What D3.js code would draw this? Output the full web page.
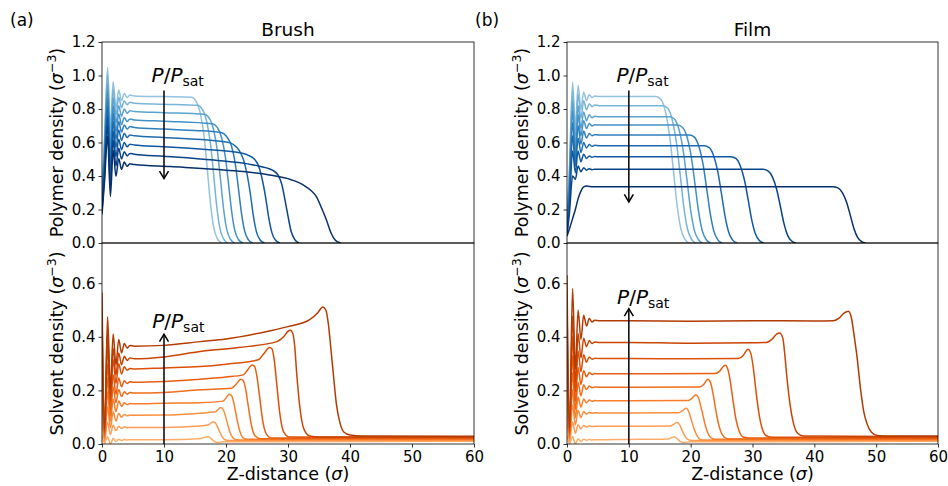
<!DOCTYPE html>
<html><head><meta charset="utf-8">
<script src="https://cdn.jsdelivr.net/npm/d3@7"></script>
<style>
body{margin:0;background:#fff}
text{font-family:"DejaVu Sans",sans-serif;fill:#000}
</style>
</head><body>
<svg id="chart" width="948" height="486"></svg>
<script>
// Density profiles versus distance from the substrate, one curve per P/Psat.
// Index 0 = lowest P/Psat (lightest colour), index 8 = highest.

// shared sampling of the layered region next to the wall
const zWall = [0, 0.4, 0.9, 1.35, 1.8, 2.25, 2.7, 3.15, 3.6, 4.05, 4.5, 5.2];

// ---- Brush: polymer density ----
const brushPolymerWall = [
  [0.28,0.62,1.048,0.688,0.963,0.808,0.913,0.850,0.893,0.868,0.883,0.878],
  [0.27,0.59,1.005,0.645,0.920,0.765,0.870,0.807,0.850,0.825,0.840,0.835],
  [0.26,0.56,0.955,0.595,0.870,0.715,0.820,0.757,0.800,0.775,0.790,0.785],
  [0.245,0.53,0.905,0.545,0.820,0.665,0.770,0.707,0.750,0.725,0.740,0.735],
  [0.235,0.50,0.860,0.500,0.775,0.620,0.725,0.662,0.705,0.680,0.695,0.690],
  [0.22,0.47,0.810,0.450,0.725,0.570,0.675,0.612,0.655,0.630,0.645,0.640],
  [0.205,0.44,0.755,0.395,0.670,0.515,0.620,0.557,0.600,0.575,0.590,0.585],
  [0.19,0.40,0.700,0.340,0.615,0.460,0.565,0.502,0.545,0.520,0.535,0.530],
  [0.17,0.36,0.638,0.278,0.553,0.398,0.503,0.440,0.483,0.458,0.473,0.468]
];
const brushPolymerBulk = [
  [[10,0.874],[14.4,0.870],[15.2,0.844],[15.9,0.766],[16.5,0.626],[17.0,0.435],[17.5,0.235],[18.0,0.096],[18.6,0.026],[19.3,0]],
  [[10,0.829],[15.4,0.822],[16.2,0.797],[16.9,0.723],[17.5,0.592],[18.0,0.411],[18.5,0.222],[19.0,0.090],[19.6,0.025],[20.3,0]],
  [[10,0.778],[16.5,0.768],[17.3,0.745],[18.0,0.676],[18.6,0.553],[19.1,0.384],[19.6,0.207],[20.1,0.084],[20.7,0.023],[21.4,0]],
  [[10,0.727],[17.8,0.712],[18.6,0.690],[19.3,0.627],[19.9,0.513],[20.4,0.356],[20.9,0.192],[21.4,0.078],[22.0,0.021],[22.7,0]],
  [[10,0.680],[15,0.672],[19.2,0.660],[20.1,0.636],[20.9,0.578],[21.5,0.472],[22.0,0.328],[22.5,0.177],[23.0,0.072],[23.6,0.020],[24.3,0]],
  [[10,0.630],[17,0.615],[20.5,0.600],[21.3,0.585],[22.1,0.555],[22.8,0.500],[23.4,0.410],[23.9,0.300],[24.4,0.165],[24.9,0.068],[25.5,0.018],[26.2,0]],
  [[10,0.575],[18,0.555],[22,0.540],[23.5,0.525],[24.6,0.500],[25.3,0.455],[25.9,0.370],[26.4,0.270],[26.9,0.150],[27.4,0.062],[28.0,0.016],[28.7,0]],
  [[10,0.518],[18,0.495],[24.4,0.466],[27.5,0.435],[28.4,0.405],[29.0,0.350],[29.5,0.260],[30.0,0.160],[30.5,0.070],[31.1,0.020],[31.8,0]],
  [[11,0.456],[20,0.435],[27,0.406],[30.5,0.378],[32.5,0.346],[33.8,0.310],[34.6,0.276],[35.4,0.210],[36.2,0.137],[37.0,0.055],[37.6,0.018],[38.5,0]]
];

// ---- Brush: solvent density ----
const brushSolventWall = [
  [0.036,0.003,0.027,0.000,0.021,0.009,0.018,0.013,0.017,0.015,0.016,0.016],
  [0.096,0.009,0.081,0.035,0.070,0.050,0.066,0.058,0.064,0.061,0.062,0.062],
  [0.166,0.016,0.139,0.060,0.120,0.086,0.114,0.100,0.110,0.105,0.108,0.107],
  [0.232,0.022,0.195,0.084,0.168,0.121,0.160,0.140,0.154,0.147,0.151,0.150],
  [0.294,0.028,0.247,0.107,0.213,0.154,0.203,0.177,0.195,0.186,0.192,0.190],
  [0.356,0.034,0.299,0.129,0.258,0.186,0.246,0.214,0.236,0.226,0.232,0.230],
  [0.433,0.042,0.364,0.157,0.315,0.226,0.299,0.261,0.288,0.275,0.282,0.280],
  [0.492,0.048,0.414,0.179,0.357,0.257,0.340,0.296,0.327,0.312,0.321,0.318],
  [0.565,0.055,0.475,0.205,0.410,0.295,0.390,0.340,0.375,0.358,0.368,0.365]
];
const brushSolventBulk = [
  [[10,0.016],[15.8,0.020],[16.6,0.025],[17.1,0.027],[17.6,0.020],[18.1,0.010],[18.7,0.006],[19.5,0.008],[60,0.010]],
  [[10,0.062],[15.8,0.067],[17.2,0.072],[17.9,0.083],[18.3,0.078],[18.7,0.060],[19.1,0.040],[19.6,0.020],[20.3,0.013],[60,0.013]],
  [[10,0.108],[15.8,0.115],[18.3,0.120],[18.7,0.128],[19.1,0.136],[19.5,0.130],[19.9,0.105],[20.3,0.070],[20.8,0.035],[21.4,0.018],[22.2,0.015],[60,0.015]],
  [[10,0.152],[15.8,0.154],[19.5,0.160],[20.0,0.172],[20.5,0.186],[20.9,0.180],[21.3,0.150],[21.7,0.100],[22.2,0.050],[22.8,0.022],[23.6,0.018],[60,0.017]],
  [[10,0.192],[15.8,0.202],[20.9,0.208],[21.6,0.222],[22.4,0.242],[22.8,0.236],[23.2,0.200],[23.6,0.140],[24.1,0.070],[24.7,0.030],[25.6,0.020],[60,0.019]],
  [[10,0.233],[15.8,0.242],[20,0.250],[22.8,0.258],[23.6,0.280],[24.2,0.295],[24.6,0.290],[25.0,0.250],[25.4,0.180],[25.9,0.090],[26.5,0.038],[27.4,0.022],[60,0.021]],
  [[10,0.284],[15.8,0.289],[20,0.298],[25.2,0.314],[26.2,0.340],[27.0,0.360],[27.4,0.355],[27.8,0.310],[28.2,0.220],[28.7,0.110],[29.3,0.045],[30.2,0.026],[60,0.024]],
  [[10,0.325],[15.8,0.345],[22,0.360],[28.2,0.382],[29.3,0.400],[30.0,0.420],[30.4,0.424],[30.8,0.410],[31.1,0.360],[31.4,0.264],[31.9,0.140],[32.5,0.060],[33.5,0.030],[35,0.026],[60,0.026]],
  [[10,0.368],[15.8,0.382],[20,0.392],[26.6,0.420],[30,0.438],[33.5,0.464],[34.8,0.490],[35.6,0.511],[36.1,0.500],[36.5,0.450],[36.9,0.360],[37.3,0.264],[37.8,0.150],[38.4,0.077],[39.0,0.045],[40,0.034],[42,0.030],[60,0.029]]
];

// ---- Film: polymer density ----
const filmPolymerWall = [
  [0.12,0.45,0.960,0.700,0.940,0.800,0.900,0.850,0.885,0.868,0.878,0.874],
  [0.11,0.42,0.910,0.640,0.890,0.745,0.850,0.795,0.832,0.814,0.824,0.820],
  [0.10,0.39,0.850,0.580,0.820,0.685,0.782,0.730,0.765,0.748,0.757,0.754],
  [0.09,0.36,0.790,0.540,0.765,0.640,0.730,0.683,0.714,0.698,0.706,0.704],
  [0.08,0.32,0.720,0.500,0.700,0.590,0.668,0.627,0.654,0.640,0.647,0.645],
  [0.07,0.28,0.640,0.460,0.625,0.540,0.600,0.567,0.588,0.577,0.583,0.581],
  [0.06,0.24,0.550,0.420,0.550,0.485,0.530,0.505,0.520,0.512,0.516,0.515],
  [0.05,0.18,0.400,0.380,0.460,0.425,0.450,0.435,0.443,0.438,0.441,0.440],
  [0.04,0.085,0.145,0.200,0.265,0.310,0.335,0.340,0.338,0.336,0.336,0.336]
];
const filmPolymerBulk = [
  [[10,0.874],[14.4,0.874],[15.2,0.857],[15.9,0.787],[16.6,0.638],[17.2,0.437],[17.8,0.227],[18.4,0.087],[19.0,0.026],[19.7,0]],
  [[10,0.820],[15.5,0.820],[16.3,0.804],[17.0,0.738],[17.7,0.599],[18.3,0.410],[18.9,0.213],[19.5,0.082],[20.1,0.025],[20.8,0]],
  [[10,0.754],[16.6,0.754],[17.4,0.739],[18.1,0.679],[18.8,0.550],[19.4,0.377],[20.0,0.196],[20.6,0.075],[21.2,0.023],[21.9,0]],
  [[10,0.704],[17.9,0.704],[18.7,0.690],[19.4,0.634],[20.1,0.514],[20.7,0.352],[21.3,0.183],[21.9,0.070],[22.5,0.021],[23.2,0]],
  [[10,0.645],[19.8,0.645],[20.6,0.632],[21.3,0.580],[22.0,0.471],[22.6,0.322],[23.2,0.168],[23.8,0.065],[24.4,0.019],[25.1,0]],
  [[10,0.581],[22.2,0.581],[23.0,0.569],[23.7,0.523],[24.4,0.424],[25.0,0.290],[25.6,0.151],[26.2,0.058],[26.8,0.017],[27.5,0]],
  [[10,0.515],[26.5,0.515],[27.3,0.505],[28.0,0.463],[28.7,0.376],[29.3,0.257],[29.9,0.134],[30.5,0.052],[31.1,0.015],[31.8,0]],
  [[10,0.440],[31.7,0.440],[32.5,0.431],[33.2,0.396],[33.9,0.321],[34.5,0.220],[35.1,0.114],[35.7,0.044],[36.3,0.013],[37.0,0]],
  [[10,0.336],[43.0,0.336],[43.8,0.329],[44.5,0.302],[45.2,0.245],[45.8,0.168],[46.4,0.087],[47.0,0.034],[47.6,0.010],[48.3,0]]
];

// ---- Film: solvent density ----
const filmSolventWall = [
  [0.033,0.002,0.028,0.000,0.020,0.009,0.018,0.014,0.017,0.015,0.016,0.016],
  [0.090,0.009,0.083,0.040,0.072,0.056,0.069,0.063,0.067,0.065,0.066,0.066],
  [0.159,0.015,0.146,0.071,0.126,0.098,0.121,0.111,0.118,0.115,0.117,0.116],
  [0.221,0.021,0.203,0.098,0.175,0.137,0.168,0.154,0.164,0.159,0.162,0.161],
  [0.290,0.028,0.267,0.129,0.230,0.180,0.221,0.203,0.216,0.210,0.213,0.212],
  [0.359,0.034,0.330,0.159,0.285,0.222,0.273,0.251,0.267,0.259,0.263,0.262],
  [0.437,0.041,0.402,0.194,0.347,0.270,0.333,0.305,0.325,0.316,0.320,0.319],
  [0.519,0.049,0.478,0.231,0.412,0.321,0.395,0.363,0.386,0.375,0.381,0.379],
  [0.630,0.060,0.580,0.280,0.500,0.390,0.480,0.440,0.468,0.455,0.462,0.460]
];
const filmSolventBulk = [
  [[10,0.017],[16.4,0.019],[17.0,0.025],[17.3,0.027],[17.8,0.020],[18.3,0.010],[18.9,0.006],[19.8,0.008],[60,0.010]],
  [[10,0.066],[16.7,0.067],[17.3,0.074],[17.8,0.080],[18.2,0.072],[18.6,0.052],[19.0,0.032],[19.5,0.017],[20.2,0.013],[60,0.013]],
  [[10,0.116],[18.1,0.117],[18.7,0.124],[19.1,0.132],[19.3,0.133],[19.7,0.120],[20.1,0.090],[20.5,0.060],[21.0,0.032],[21.6,0.017],[22.3,0.015],[60,0.015]],
  [[10,0.161],[19.6,0.162],[20.2,0.170],[20.7,0.182],[20.9,0.183],[21.3,0.170],[21.7,0.135],[22.1,0.095],[22.6,0.052],[23.2,0.025],[23.9,0.018],[60,0.017]],
  [[10,0.212],[21.4,0.213],[22.1,0.222],[22.6,0.238],[22.8,0.242],[23.2,0.230],[23.6,0.190],[24.0,0.135],[24.5,0.075],[25.1,0.035],[25.8,0.021],[26.6,0.019],[60,0.019]],
  [[10,0.262],[23.9,0.263],[24.7,0.272],[25.3,0.290],[25.6,0.294],[26.0,0.280],[26.4,0.235],[26.8,0.170],[27.3,0.095],[27.9,0.045],[28.6,0.025],[29.5,0.022],[60,0.021]],
  [[10,0.319],[20,0.318],[27.7,0.319],[28.5,0.330],[29.0,0.348],[29.3,0.354],[29.7,0.340],[30.1,0.290],[30.5,0.210],[31.0,0.120],[31.6,0.055],[32.3,0.030],[33.3,0.025],[60,0.024]],
  [[10,0.379],[20,0.376],[30,0.378],[32.3,0.379],[33.2,0.392],[33.9,0.410],[34.4,0.414],[34.9,0.395],[35.2,0.340],[35.5,0.264],[36.0,0.160],[36.6,0.080],[37.3,0.040],[38.2,0.030],[60,0.027]],
  [[10,0.460],[20,0.458],[30,0.460],[40,0.459],[43.1,0.460],[44.0,0.470],[44.8,0.488],[45.5,0.495],[46.0,0.470],[46.4,0.410],[46.9,0.326],[47.5,0.200],[48.0,0.120],[48.5,0.077],[49.2,0.045],[50.2,0.032],[52,0.030],[60,0.030]]
];

// axis ticks
const zTicks = [0, 10, 20, 30, 40, 50, 60];
const polymerTicks = [0, 0.2, 0.4, 0.6, 0.8, 1.0, 1.2];
const solventTicks = [0, 0.2, 0.4, 0.6];

// P/Psat arrows: [z, start density, end density]
const brushPolymerArrow = [10, 0.91, 0.385];
const brushSolventArrow = [10, 0.0, 0.41];
const filmPolymerArrow  = [10, 0.91, 0.245];
const filmSolventArrow  = [10, 0.0, 0.505];
// arrow label anchors: [z, density]
const brushPolymerNote = [8.0, 0.963];
const brushSolventNote = [8.1, 0.433];
const filmPolymerNote  = [8.0, 0.963];
const filmSolventNote  = [8.1, 0.523];

const svg = d3.select("#chart");
const yTop = 42, yMid = 243, yBot = 444;

const panels = [
  {x0:102, x1:474, tag:"(a)", tagX:10, title:"Brush",
   polymer:[brushPolymerWall, brushPolymerBulk], solvent:[brushSolventWall, brushSolventBulk],
   pArrow:brushPolymerArrow, sArrow:brushSolventArrow, pNote:brushPolymerNote, sNote:brushSolventNote},
  {x0:567, x1:938, tag:"(b)", tagX:475, title:"Film",
   polymer:[filmPolymerWall, filmPolymerBulk], solvent:[filmSolventWall, filmSolventBulk],
   pArrow:filmPolymerArrow, sArrow:filmSolventArrow, pNote:filmPolymerNote, sNote:filmSolventNote}
];

const blue = i => d3.interpolateBlues(0.4 + 0.075 * i);
const orange = i => d3.interpolateOranges(0.38 + 0.058 * i);

function profile(wall, bulk) {
  return zWall.map((z, k) => [z, wall[k]]).concat(bulk);
}

function styleAxis(g) {
  g.select(".domain").remove();
  g.selectAll(".tick line").attr("stroke", "#000").attr("stroke-width", 0.8);
  g.selectAll(".tick text").attr("font-size", 15).attr("font-family", "DejaVu Sans").attr("fill", "#000");
}

function arrow(g, x, y, a, color) {
  const z = a[0], ys = y(a[1]), ye = y(a[2]);
  const xs = x(z);
  const dir = ye < ys ? 1 : -1; // head pointing up => dir 1
  g.append("line").attr("x1", xs).attr("x2", xs).attr("y1", ys).attr("y2", ye)
    .attr("stroke", "#000").attr("stroke-width", 1.5);
  g.append("path")
    .attr("d", `M${xs - 4.5},${ye + dir * 7.5}L${xs},${ye}L${xs + 4.5},${ye + dir * 7.5}`)
    .attr("fill", "none").attr("stroke", "#000").attr("stroke-width", 1.5);
}

function note(g, x, y, pos) {
  const t = g.append("text").attr("x", x(pos[0])).attr("y", y(pos[1])).attr("font-size", 20);
  t.append("tspan").attr("font-style", "italic").text("P");
  t.append("tspan").text("/");
  t.append("tspan").attr("font-style", "italic").text("P");
  t.append("tspan").attr("font-size", 14).attr("dy", 4).text("sat");
}

function yLabel(g, cx, cy, word) {
  const t = g.append("text").attr("transform", `translate(${cx},${cy}) rotate(-90)`)
    .attr("text-anchor", "middle").attr("font-size", 17.5);
  t.append("tspan").text(word + " density (");
  t.append("tspan").attr("font-style", "italic").text("σ");
  t.append("tspan").attr("font-size", 12.5).attr("dy", -7).text("−3");
  t.append("tspan").attr("dy", 7).text(")");
}

panels.forEach((p, pi) => {
  const x = d3.scaleLinear().domain([0, 60]).range([p.x0, p.x1]);
  const yP = d3.scaleLinear().domain([0, 1.2]).range([yMid, yTop]);
  const yS = d3.scaleLinear().domain([0, 0.75]).range([yBot, yMid]);
  const g = svg.append("g");

  const clipTop = "clipTop" + pi, clipBot = "clipBot" + pi;
  const defs = svg.append("defs");
  defs.append("clipPath").attr("id", clipTop).append("rect")
    .attr("x", p.x0).attr("y", yTop).attr("width", p.x1 - p.x0).attr("height", yMid - yTop);
  defs.append("clipPath").attr("id", clipBot).append("rect")
    .attr("x", p.x0).attr("y", yMid).attr("width", p.x1 - p.x0).attr("height", yBot - yMid);

  const lineP = d3.line().x(d => x(d[0])).y(d => yP(d[1])).curve(d3.curveMonotoneX);
  const lineS = d3.line().x(d => x(d[0])).y(d => yS(d[1])).curve(d3.curveMonotoneX);

  const gp = g.append("g").attr("clip-path", `url(#${clipTop})`);
  p.polymer[0].forEach((w, i) => {
    gp.append("path").attr("d", lineP(profile(w, p.polymer[1][i])))
      .attr("fill", "none").attr("stroke", blue(i)).attr("stroke-width", 1.5)
      .attr("stroke-linejoin", "round");
  });
  const gs = g.append("g").attr("clip-path", `url(#${clipBot})`);
  p.solvent[0].forEach((w, i) => {
    gs.append("path").attr("d", lineS(profile(w, p.solvent[1][i])))
      .attr("fill", "none").attr("stroke", orange(i)).attr("stroke-width", 1.5)
      .attr("stroke-linejoin", "round");
  });

  // arrows and P/Psat labels
  arrow(g, x, yP, p.pArrow);
  arrow(g, x, yS, p.sArrow);
  note(g, x, yP, p.pNote);
  note(g, x, yS, p.sNote);

  // axes
  g.append("g").attr("transform", `translate(${p.x0},0)`)
    .call(d3.axisLeft(yP).tickValues(polymerTicks).tickFormat(d3.format(".1f")).tickSize(3.5).tickPadding(3))
    .call(styleAxis);
  g.append("g").attr("transform", `translate(${p.x0},0)`)
    .call(d3.axisLeft(yS).tickValues(solventTicks).tickFormat(d3.format(".1f")).tickSize(3.5).tickPadding(3))
    .call(styleAxis);
  g.append("g").attr("transform", `translate(0,${yBot})`)
    .call(d3.axisBottom(x).tickValues(zTicks).tickFormat(d3.format("d")).tickSize(3.5).tickPadding(3.5))
    .call(styleAxis);

  // frames
  [[yTop, yMid], [yMid, yBot]].forEach(([a, b]) => {
    g.append("rect").attr("x", p.x0).attr("y", a).attr("width", p.x1 - p.x0).attr("height", b - a)
      .attr("fill", "none").attr("stroke", "#000").attr("stroke-width", 0.8);
  });

  // titles and labels
  const cx = (p.x0 + p.x1) / 2;
  g.append("text").attr("x", cx).attr("y", 36).attr("text-anchor", "middle").attr("font-size", 18.5).text(p.title);
  g.append("text").attr("x", p.tagX).attr("y", 26).attr("font-size", 17).text(p.tag);
  const xl = g.append("text").attr("x", cx).attr("y", 480).attr("text-anchor", "middle").attr("font-size", 17.5);
  xl.append("tspan").text("Z-distance (");
  xl.append("tspan").attr("font-style", "italic").text("σ");
  xl.append("tspan").text(")");
  yLabel(g, p.x0 - 39, (yTop + yMid) / 2, "Polymer");
  yLabel(g, p.x0 - 39, (yMid + yBot) / 2, "Solvent");
});
</script>
</body></html>
